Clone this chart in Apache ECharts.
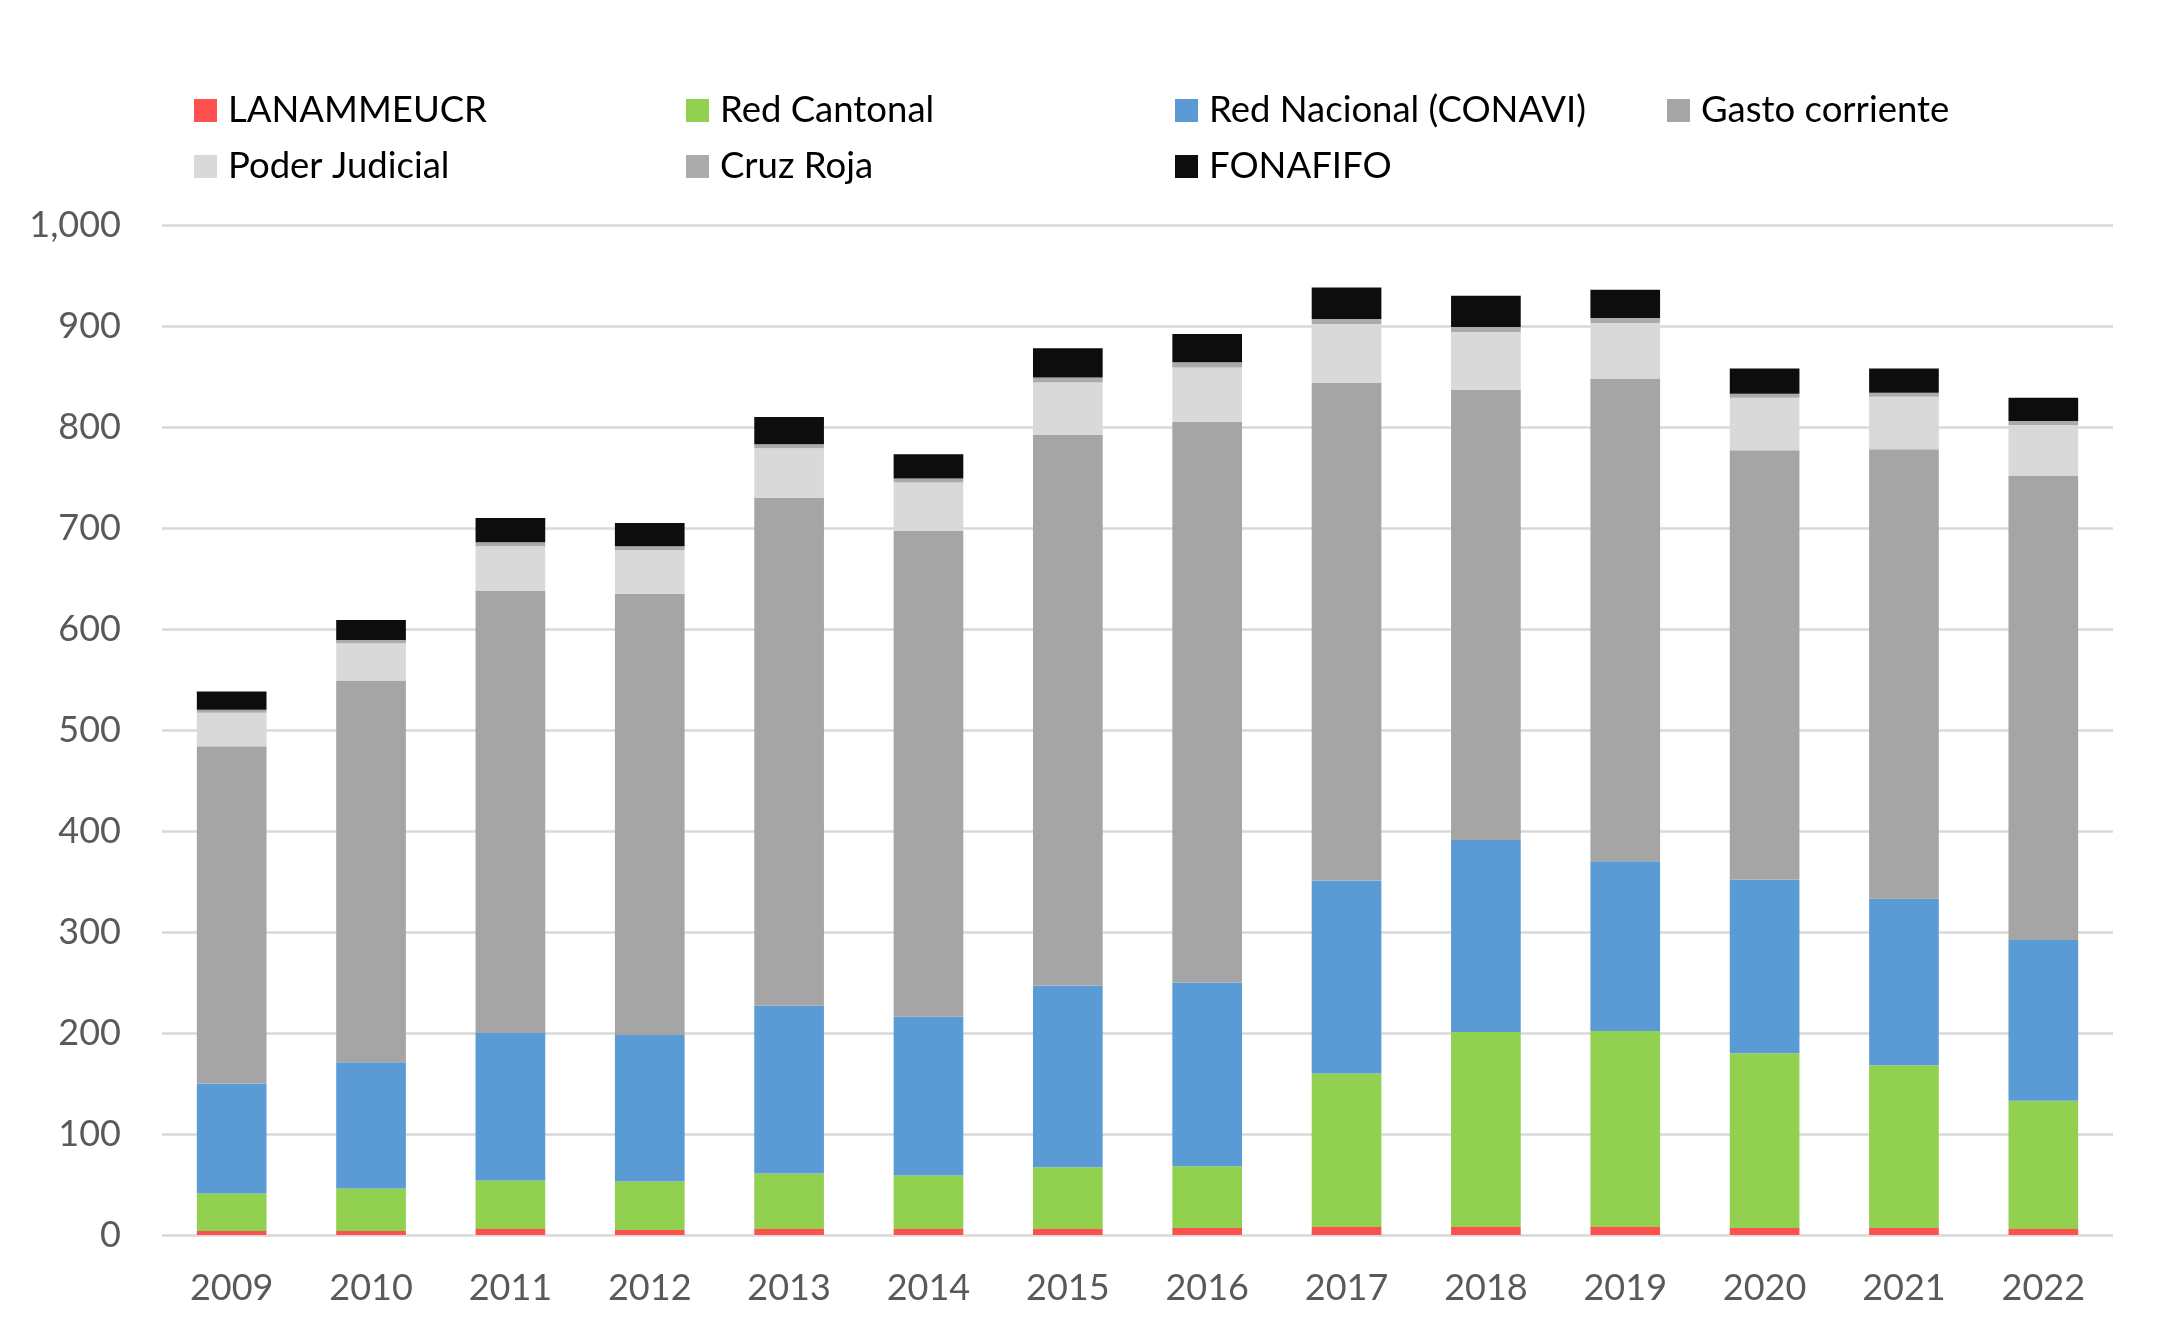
<!DOCTYPE html>
<html>
<head>
<meta charset="utf-8">
<script src="https://cdn.jsdelivr.net/npm/echarts@6/dist/echarts.min.js"></script>
<style>
html,body{margin:0;padding:0;background:#fff;}
#chart{width:2164px;height:1342px;}
</style>
</head>
<body>
<div id="chart"></div>
<script>
const years = ['2009','2010','2011','2012','2013','2014','2015','2016','2017','2018','2019','2020','2021','2022'];
const lanamme     = [4, 4, 6, 5, 6, 6, 6, 7, 8, 8, 8, 7, 7, 6];
const redCantonal = [37, 42, 48, 48, 55, 53, 61, 61, 152, 193, 194, 173, 161, 127];
const redNacional = [109, 125, 146, 145, 166, 157, 180, 182, 191, 190, 168, 172, 165, 159];
const gasto       = [334, 378, 438, 437, 503, 481, 545, 555, 493, 446, 478, 425, 445, 460];
const poder       = [33, 37, 44, 43, 49, 48, 52, 54, 58, 57, 55, 52, 52, 50];
const cruzRoja    = [3, 3, 4, 4, 4, 4, 5, 5, 5, 5, 5, 4, 4, 4];
const fonafifo    = [18, 20, 24, 23, 27, 24, 29, 28, 31, 31, 28, 25, 24, 23];
const yTicks = [0, 100, 200, 300, 400, 500, 600, 700, 800, 900, 1000];

const seriesDefs = [
  {name:'LANAMMEUCR', data: lanamme, color:'#FF5050'},
  {name:'Red Cantonal', data: redCantonal, color:'#92D050'},
  {name:'Red Nacional (CONAVI)', data: redNacional, color:'#5B9BD5'},
  {name:'Gasto corriente', data: gasto, color:'#A5A5A5'},
  {name:'Poder Judicial', data: poder, color:'#D9D9D9'},
  {name:'Cruz Roja', data: cruzRoja, color:'#ABABAB'},
  {name:'FONAFIFO', data: fonafifo, color:'#0D0D0D'}
];

const FONT = 'Lato, "Open Sans", sans-serif';
function legendCol(left, names){
  return {
    orient:'vertical', left:left, top:92, padding:0,
    itemWidth:23, itemHeight:23, itemGap:19,
    icon:'rect', selectedMode:false,
    data:names,
    textStyle:{fontFamily:FONT, fontSize:36.5, color:'#000', padding:[0,0,0,6]}
  };
}

const chart = echarts.init(document.getElementById('chart'));
chart.setOption({
  animation:false,
  backgroundColor:'#fff',
  legend:[
    legendCol(194, ['LANAMMEUCR','Poder Judicial']),
    legendCol(686, ['Red Cantonal','Cruz Roja']),
    legendCol(1175, ['Red Nacional (CONAVI)','FONAFIFO']),
    legendCol(1667, ['Gasto corriente'])
  ],
  grid:{left:162, right:51, top:225, bottom:107, containLabel:false},
  xAxis:{
    type:'category', data:years,
    axisLine:{show:false}, axisTick:{show:false},
    axisLabel:{fontFamily:FONT, fontSize:36, color:'#595959', margin:35}
  },
  yAxis:{
    type:'value', min:yTicks[0], max:yTicks[yTicks.length-1], interval:100,
    axisLine:{show:false}, axisTick:{show:false},
    splitLine:{lineStyle:{color:'#D9D9D9', width:2.5}},
    axisLabel:{fontFamily:FONT, fontSize:36, color:'#595959', margin:41,
      formatter: v => v.toLocaleString('en-US')}
  },
  series: seriesDefs.map(s => ({
    name:s.name, type:'bar', stack:'total', data:s.data,
    barWidth:'50%',
    itemStyle:{color:s.color},
    emphasis:{disabled:true}
  }))
});
</script>
</body>
</html>
